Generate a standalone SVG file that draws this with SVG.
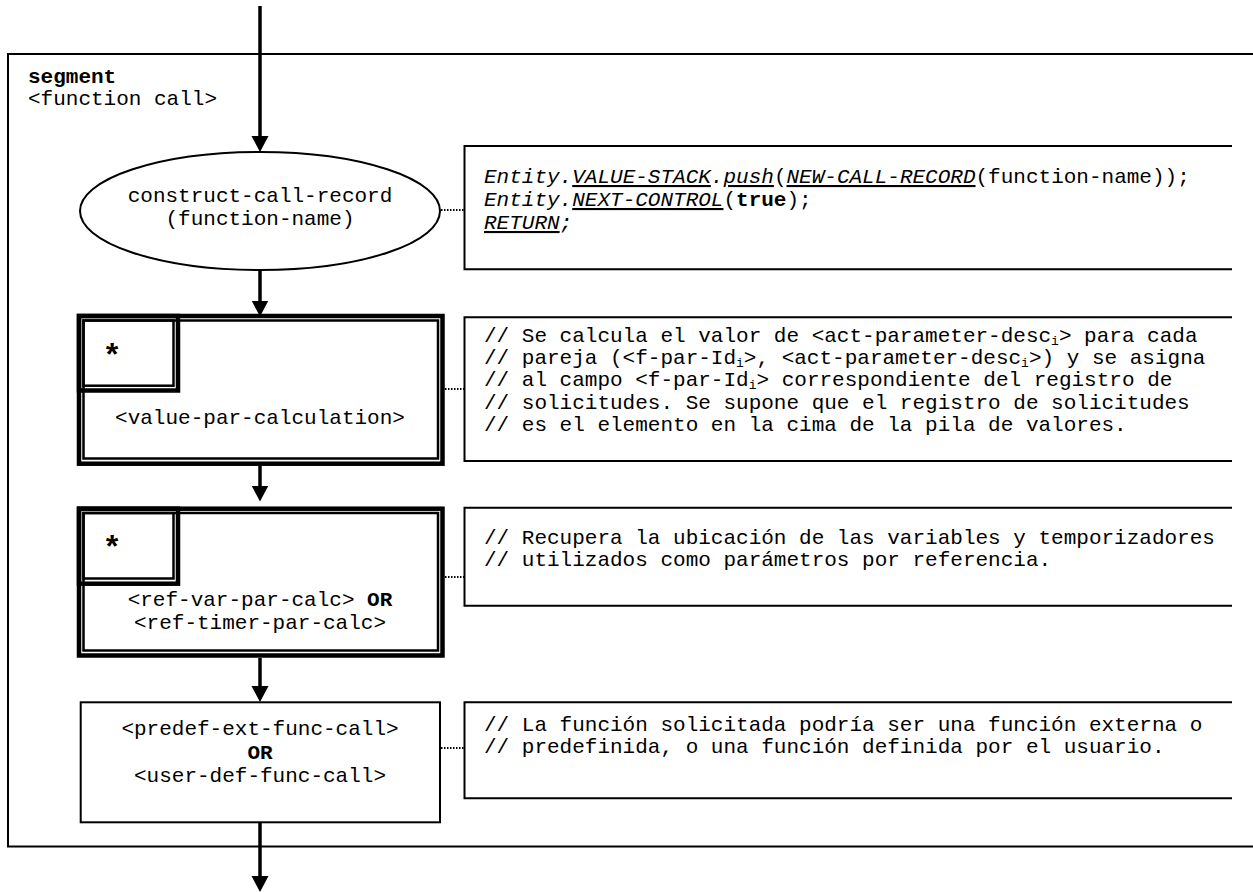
<svg xmlns="http://www.w3.org/2000/svg" width="1253" height="892" viewBox="0 0 1253 892">
<style>
text{font-family:"Liberation Mono","Courier New",monospace;font-size:21px;fill:#000}
.c{text-anchor:middle}
.b{font-weight:bold}
.i{font-style:italic}
.u{font-style:italic;text-decoration:underline}
.star{font-size:32px;font-weight:bold;text-anchor:middle}
.sub{font-size:13px}
.frame{fill:none;stroke:#000;stroke-width:2}
.outer{fill:none;stroke:#000;stroke-width:4.5}
.inner{fill:none;stroke:#000;stroke-width:2.5}
.flow{fill:none;stroke:#000;stroke-width:3.5}
.dot{fill:none;stroke:#000;stroke-width:2;stroke-dasharray:1.5 1.5}
</style>
<defs>
<marker id="ah" markerUnits="userSpaceOnUse" markerWidth="17" markerHeight="18" refX="12" refY="9" orient="auto">
<path d="M0,0.5 L16,9 L0,17.5 z" fill="#000"/>
</marker>
</defs>
<rect width="1253" height="892" fill="#fff"/>

<g id="segment">
<path class="frame" d="M1253,54 H8 V846.5 H1253"/>
<text x="28" y="83" class="b">segment</text>
<text x="28" y="105">&lt;function call&gt;</text>
</g>

<g id="construct-call-record">
<ellipse cx="260" cy="211" rx="180" ry="59" class="frame"/>
<text x="260" y="202" class="c">construct-call-record</text>
<text x="260" y="225" class="c">(function-name)</text>
</g>

<g id="comment1">
<path class="frame" d="M1232,146 H464.5 V269.3 H1232"/>
<text x="484" y="183"><tspan class="i">Entity.</tspan><tspan class="u">VALUE-STACK</tspan><tspan class="i">.</tspan><tspan class="u">push</tspan>(<tspan class="u">NEW-CALL-RECORD</tspan>(function-name));</text>
<text x="484" y="206"><tspan class="i">Entity.</tspan><tspan class="u">NEXT-CONTROL</tspan>(<tspan class="b">true</tspan>);</text>
<text x="484" y="229"><tspan class="u">RETURN</tspan><tspan class="i">;</tspan></text>
</g>

<g id="value-par-calculation">
<rect x="79" y="316" width="363.5" height="147.7" class="outer"/>
<rect x="83.5" y="320.5" width="354.5" height="138" class="inner"/>
<rect x="79" y="316" width="99" height="74.5" class="outer"/>
<rect x="83.5" y="320.5" width="90" height="65.2" class="inner"/>
<text x="112" y="366" class="star">*</text>
<text x="260" y="424" class="c">&lt;value-par-calculation&gt;</text>
</g>

<g id="comment2">
<path class="frame" d="M1232,317.3 H464.5 V461 H1232"/>
<text x="484" y="342">// Se calcula el valor de &lt;act-parameter-desc<tspan class="sub" dy="3">i</tspan><tspan dy="-3">&gt; para cada</tspan></text>
<text x="484" y="364">// pareja (&lt;f-par-Id<tspan class="sub" dy="3">i</tspan><tspan dy="-3">&gt;, &lt;act-parameter-desc</tspan><tspan class="sub" dy="3">i</tspan><tspan dy="-3">&gt;) y se asigna</tspan></text>
<text x="484" y="386">// al campo &lt;f-par-Id<tspan class="sub" dy="3">i</tspan><tspan dy="-3">&gt; correspondiente del registro de</tspan></text>
<text x="484" y="409">// solicitudes. Se supone que el registro de solicitudes</text>
<text x="484" y="431">// es el elemento en la cima de la pila de valores.</text>
</g>

<g id="ref-par-calc">
<rect x="79" y="508.7" width="363.5" height="146.8" class="outer"/>
<rect x="83.5" y="513" width="354.5" height="137.5" class="inner"/>
<rect x="79" y="508.7" width="99" height="75" class="outer"/>
<rect x="83.5" y="513" width="90" height="65.5" class="inner"/>
<text x="112" y="558" class="star">*</text>
<text x="260" y="606" class="c">&lt;ref-var-par-calc&gt; <tspan class="b">OR</tspan></text>
<text x="260" y="629" class="c">&lt;ref-timer-par-calc&gt;</text>
</g>

<g id="comment3">
<path class="frame" d="M1232,507.7 H464.5 V605.7 H1232"/>
<text x="484" y="544">// Recupera la ubicación de las variables y temporizadores</text>
<text x="484" y="566">// utilizados como parámetros por referencia.</text>
</g>

<g id="func-call">
<rect x="80.7" y="702.3" width="359.3" height="120" class="frame"/>
<text x="260" y="735" class="c">&lt;predef-ext-func-call&gt;</text>
<text x="260" y="759" class="c b">OR</text>
<text x="260" y="782" class="c">&lt;user-def-func-call&gt;</text>
</g>

<g id="comment4">
<path class="frame" d="M1232,702.3 H464.5 V798.3 H1232"/>
<text x="484" y="731">// La función solicitada podría ser una función externa o</text>
<text x="484" y="753">// predefinida, o una función definida por el usuario.</text>
</g>

<g id="connectors">
<path class="flow" d="M260,6 V148" marker-end="url(#ah)"/>
<path class="flow" d="M260,270 V312.5" marker-end="url(#ah)"/>
<path class="flow" d="M260,466 V497.5" marker-end="url(#ah)"/>
<path class="flow" d="M260,658 V698" marker-end="url(#ah)"/>
<path class="flow" d="M260,823 V888" marker-end="url(#ah)"/>
<path class="dot" d="M441,210 H464"/>
<path class="dot" d="M445,389 H464"/>
<path class="dot" d="M445,577 H464"/>
<path class="dot" d="M441,748 H464"/>
</g>
</svg>
